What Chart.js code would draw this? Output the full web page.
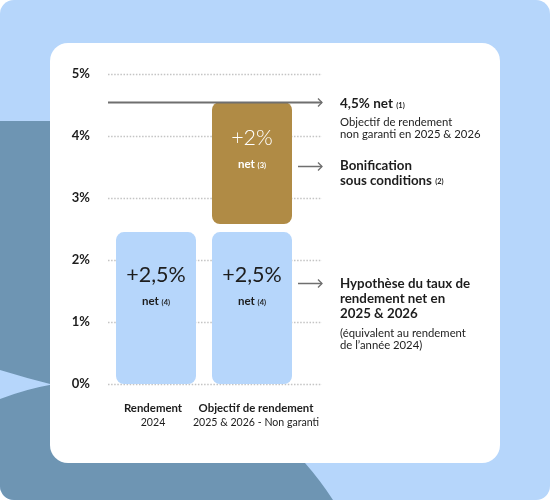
<!DOCTYPE html>
<html><head><meta charset="utf-8">
<script src="https://cdn.jsdelivr.net/npm/chart.js@4/dist/chart.umd.min.js"></script>
<style>
html,body{margin:0;padding:0;background:#fff;}
#wrap{position:relative;width:550px;height:500px;}
svg,canvas{position:absolute;left:0;top:0;}
</style></head>
<body>
<div id="wrap">
<svg width="550" height="500">
<defs><clipPath id="c"><rect width="550" height="500" rx="14"/></clipPath></defs>
<g clip-path="url(#c)">
<rect width="550" height="500" fill="#b6d6fb"/>
<path d="M0,121 H300 V455 L305,463 Q320,480 333,500 H0 Z" fill="#6e95b3"/>
<path d="M0,370 Q26,378 52,384.5 Q26,389 0,399 Z" fill="#b6d6fb"/>
</g>
<rect x="50" y="43" width="450" height="420" rx="18" fill="#ffffff"/>
</svg>
<canvas id="chart" width="550" height="500"></canvas>
</div>
<script>
// ---- data ----
const categories = [['Rendement', '2024'], ['Objectif de rendement', '2025 & 2026 - Non garanti']];
const baseRange = [[0, 2.45], [0, 2.45]];
const bonusRange = [null, [2.58, 4.55]];
const baseLabels = ['+2,5%', '+2,5%'];
const baseNotes = ['(4)', '(4)'];
const bonusLabels = [null, '+2%'];
const bonusNotes = [null, '(3)'];
const yTickValues = [0, 1, 2, 3, 4, 5];
const arrowLevels = [4.55, 3.52, 1.63];

const FONT = 'Lato, "Noto Sans", sans-serif';
const TXT = '#1d1d1d';

function f(size, weight) { return weight + ' ' + size + 'px ' + FONT; }

function drawRuns(ctx, x, y, runs, align, color) {
  let total = 0;
  runs.forEach(r => { ctx.font = r.font; total += ctx.measureText(r.text).width; });
  let cx = align === 'center' ? x - total / 2 : x;
  ctx.textAlign = 'left';
  ctx.textBaseline = 'middle';
  runs.forEach(r => {
    ctx.font = r.font;
    ctx.fillStyle = r.color || color;
    ctx.fillText(r.text, cx, y + (r.dy || 0));
    cx += ctx.measureText(r.text).width;
  });
}

function arrow(ctx, x1, x2, y, w) {
  ctx.save();
  ctx.strokeStyle = '#6f6f6f';
  ctx.lineWidth = w;
  ctx.beginPath(); ctx.moveTo(x1, y); ctx.lineTo(x2, y); ctx.stroke();
  ctx.lineWidth = 1.3;
  ctx.beginPath(); ctx.moveTo(x2 - 4, y - 4); ctx.lineTo(x2, y); ctx.lineTo(x2 - 4, y + 4); ctx.stroke();
  ctx.restore();
}

const gridPlugin = {
  id: 'dotGrid',
  beforeDatasetsDraw(chart) {
    const ctx = chart.ctx, y = chart.scales.y, a = chart.chartArea;
    ctx.save();
    ctx.strokeStyle = '#c4c4c4';
    ctx.lineWidth = 1.3;
    ctx.setLineDash([1.5, 1.6]);
    y.ticks.forEach(t => {
      const py = Math.round(y.getPixelForValue(t.value)) + 0.5;
      ctx.beginPath(); ctx.moveTo(a.left, py); ctx.lineTo(a.right + 22, py); ctx.stroke();
    });
    ctx.restore();
  }
};

const note = (t, c) => ({ text: t, font: f(7.5, 700), dy: 1.5, color: c });

const labelPlugin = {
  id: 'labels',
  afterDatasetsDraw(chart) {
    const ctx = chart.ctx, a = chart.chartArea, x = chart.scales.x, y = chart.scales.y;
    ctx.save();
    const baseMeta = chart.getDatasetMeta(0), bonusMeta = chart.getDatasetMeta(1);
    baseMeta.data.forEach((bar, i) => {
      if (!baseLabels[i]) return;
      drawRuns(ctx, bar.x, bar.y + 43, [{ text: baseLabels[i], font: f(21.5, 400) }], 'center', TXT);
      drawRuns(ctx, bar.x, bar.y + 69, [{ text: 'net ', font: f(11.5, 700) }, note(baseNotes[i])], 'center', TXT);
    });
    bonusMeta.data.forEach((bar, i) => {
      if (!bonusLabels[i]) return;
      drawRuns(ctx, bar.x, bar.y + 36, [{ text: bonusLabels[i], font: f(21.5, 300) }], 'center', '#ffffff');
      drawRuns(ctx, bar.x, bar.y + 62, [{ text: 'net ', font: f(11.5, 700) }, note(bonusNotes[i])], 'center', '#ffffff');
    });
    categories.forEach((c, i) => {
      const px = x.getPixelForValue(i) + (i === 1 ? 4 : 0) - (i === 0 ? 3 : 0);
      drawRuns(ctx, px, a.bottom + 24, [{ text: c[0], font: f(11.4, 700) }], 'center', TXT);
      drawRuns(ctx, px, a.bottom + 39, [{ text: c[1], font: f(10.6, 400) }], 'center', TXT);
    });
    const ends = a.right + 22;
    arrow(ctx, a.left, ends, Math.round(y.getPixelForValue(arrowLevels[0])) + 0.5, 2);
    arrow(ctx, a.right - 2, ends, Math.round(y.getPixelForValue(arrowLevels[1])) + 0.5, 1.5);
    arrow(ctx, a.right - 2, ends, Math.round(y.getPixelForValue(arrowLevels[2])) + 0.5, 1.5);
    const tx = 340;
    drawRuns(ctx, tx, 104, [{ text: '4,5% net ', font: f(13.5, 700) }, note('(1)')], 'left', TXT);
    drawRuns(ctx, tx, 122, [{ text: 'Objectif de rendement', font: f(11.3, 400) }], 'left', TXT);
    drawRuns(ctx, tx, 134, [{ text: 'non garanti en 2025 & 2026', font: f(11.3, 400) }], 'left', TXT);
    drawRuns(ctx, tx, 166, [{ text: 'Bonification', font: f(13.3, 700) }], 'left', TXT);
    drawRuns(ctx, tx, 180.5, [{ text: 'sous conditions ', font: f(13.3, 700) }, note('(2)')], 'left', TXT);
    drawRuns(ctx, tx, 284, [{ text: 'Hypothèse du taux de', font: f(13.3, 700) }], 'left', TXT);
    drawRuns(ctx, tx, 298.5, [{ text: 'rendement net en', font: f(13.3, 700) }], 'left', TXT);
    drawRuns(ctx, tx, 313.5, [{ text: '2025 & 2026', font: f(13.3, 700) }], 'left', TXT);
    drawRuns(ctx, tx, 333, [{ text: '(équivalent au rendement', font: f(11.3, 400) }], 'left', TXT);
    drawRuns(ctx, tx, 345, [{ text: 'de l’année 2024)', font: f(11.3, 400) }], 'left', TXT);
    ctx.restore();
  }
};

new Chart(document.getElementById('chart'), {
  type: 'bar',
  data: {
    labels: categories,
    datasets: [
      { label: 'Rendement net', data: baseRange, backgroundColor: '#b6d6fb', borderRadius: 8, borderSkipped: false },
      { label: 'Bonification', data: bonusRange, backgroundColor: '#b08b45', borderRadius: 8, borderSkipped: false }
    ]
  },
  options: {
    responsive: false,
    animation: false,
    devicePixelRatio: 1,
    layout: { padding: { left: 0, right: 250, top: 74, bottom: 116 } },
    datasets: { bar: { categoryPercentage: 1, barPercentage: 80 / 96 } },
    plugins: { legend: { display: false }, tooltip: { enabled: false } },
    scales: {
      x: { stacked: true, display: false },
      y: {
        stacked: false, min: 0, max: 5,
        afterFit(s) { s.width = 108; },
        afterBuildTicks(s) { s.ticks = yTickValues.map(v => ({ value: v })); },
        grid: { display: false, drawTicks: false },
        border: { display: false },
        ticks: { padding: 18, color: TXT, font: { family: FONT, size: 13, weight: '700' }, callback: v => v + '%' }
      }
    }
  },
  plugins: [gridPlugin, labelPlugin]
});
</script>
</body></html>
